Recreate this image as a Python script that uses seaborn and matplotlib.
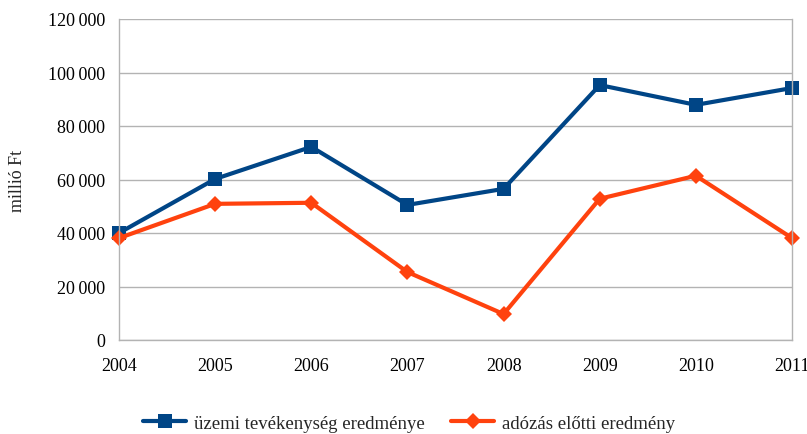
import matplotlib
matplotlib.use("Agg")
import matplotlib.pyplot as plt
import seaborn as sns
import pandas as pd
from matplotlib.ticker import FuncFormatter
from matplotlib.lines import Line2D

years = [2004, 2005, 2006, 2007, 2008, 2009, 2010, 2011]
uzemi = [40000, 60200, 72200, 50500, 56500, 95300, 87900, 94200]
adozas = [38100, 50900, 51300, 25400, 9700, 52800, 61400, 38100]
series_names = ["üzemi tevékenység eredménye", "adózás előtti eredmény"]
y_ticks = [0, 20000, 40000, 60000, 80000, 100000, 120000]

sns.set_style("white")
plt.rcParams['font.family'] = ['Liberation Serif', 'DejaVu Serif']

df = pd.DataFrame({"year": years * 2,
                   "value": uzemi + adozas,
                   "series": [series_names[0]] * len(years) + [series_names[1]] * len(years)})

fig = plt.figure(figsize=(8.07, 4.35), dpi=100)
ax = fig.add_axes([119/807, 1 - 341/435, (792 - 119)/807, (341 - 20)/435])

palette = {series_names[0]: "#004586", series_names[1]: "#FF420E"}
markers = {series_names[0]: "s", series_names[1]: "D"}
sizes_ms = {series_names[0]: 9.5, series_names[1]: 8.5}

sns.lineplot(data=df, x="year", y="value", hue="series", style="series",
             markers=markers, dashes=False, palette=palette, linewidth=3,
             markeredgewidth=0, ax=ax, legend=False)
for line, name in zip(ax.lines, series_names):
    line.set_markersize(sizes_ms[name])
    line.set_clip_on(False)

ax.set_xlim(2004, 2011)
ax.set_ylim(0, 120000)
ax.set_yticks(y_ticks)
ax.set_xticks(years)
ax.yaxis.set_major_formatter(FuncFormatter(lambda v, p: f"{int(v):,}".replace(",", "\u2009")))
ax.grid(axis="y", color="#b3b3b3", linewidth=1)
ax.set_axisbelow(True)
for s in ["left", "right", "bottom"]:
    ax.spines[s].set_color("#b3b3b3")
    ax.spines[s].set_linewidth(1)
ax.spines["top"].set_visible(False)
ax.tick_params(axis="both", which="both", length=6, color="#b3b3b3", width=1,
               labelsize=13, labelcolor="black", direction="out", pad=4)
ax.tick_params(axis="x", pad=6)
ax.set_xlabel("")
ax.set_ylabel("millió Ft", fontsize=13, labelpad=16)

handles = [Line2D([], [], color=palette[n], marker=markers[n], markersize=sizes_ms[n],
                  markeredgewidth=0, linewidth=3) for n in series_names]
fig.legend(handles, series_names, loc="center", bbox_to_anchor=(409/807, 1 - 424/435),
           ncol=2, frameon=False, fontsize=13.5, handlelength=2.3, columnspacing=1.4,
           handletextpad=0.4)

fig.savefig("out.png", dpi=100)
